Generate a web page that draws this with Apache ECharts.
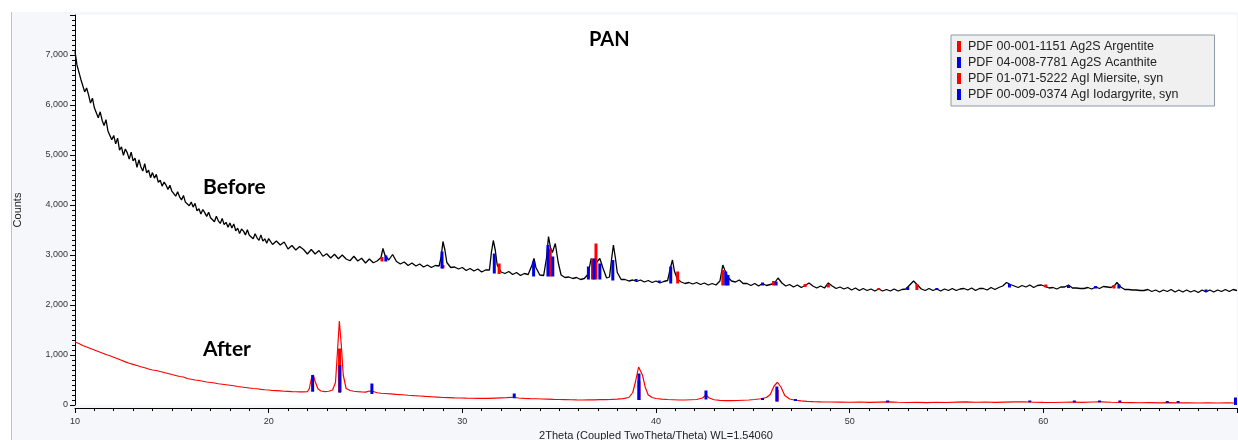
<!DOCTYPE html>
<html>
<head>
<meta charset="utf-8">
<title>PAN XRD</title>
<script src="https://cdn.jsdelivr.net/npm/echarts@6/dist/echarts.min.js"></script>
<style>
  html, body { margin: 0; padding: 0; background: #fff; }
  #chart { width: 1238px; height: 440px; }
</style>
</head>
<body>
<div id="chart"></div>
<script>
// scan data [2theta, counts]
var beforeScan = [
  [10.0,7072],[10.1,6802],[10.2,6828],[10.3,6516],[10.4,6504],[10.5,6262],[10.6,6340],[10.7,6202],[10.8,6038],[10.9,6136],
  [11.0,5944],[11.1,5958],[11.2,5744],[11.3,5864],[11.4,5696],[11.5,5588],[11.6,5708],[11.7,5482],[11.8,5496],[11.9,5306],
  [12.0,5392],[12.1,5222],[12.2,5338],[12.3,5096],[12.4,5164],[12.5,4992],[12.6,5120],[12.7,5042],[12.8,4918],[12.9,5056],
  [13.0,4884],[13.1,4938],[13.2,4754],[13.3,4904],[13.4,4766],[13.5,4678],[13.6,4828],[13.7,4642],[13.8,4696],[13.9,4546],
  [14.0,4648],[14.1,4538],[14.2,4612],[14.3,4454],[14.4,4496],[14.5,4378],[14.6,4460],[14.7,4398],[14.8,4312],[14.9,4394],
  [15.0,4276],[15.1,4302],[15.2,4176],[15.3,4266],[15.4,4164],[15.5,4102],[15.6,4192],[15.7,4058],[15.8,4094],[15.9,3984],
  [16.0,4058],[16.1,3958],[16.2,4032],[16.3,3884],[16.4,3926],[16.5,3818],[16.6,3910],[16.7,3848],[16.8,3772],[16.9,3854],
  [17.0,3746],[17.1,3782],[17.2,3666],[17.3,3776],[17.4,3684],[17.5,3632],[17.6,3732],[17.7,3608],[17.8,3654],[17.9,3554],
  [18.0,3638],[18.1,3538],[18.2,3622],[18.3,3484],[18.4,3536],[18.5,3428],[18.6,3520],[18.7,3478],[18.8,3402],[18.9,3504],
  [19.0,3396],[19.1,3432],[19.2,3326],[19.3,3426],[19.4,3344],[19.5,3292],[19.6,3402],[19.7,3278],[19.8,3324],[19.9,3234],
  [20.0,3328],[20.2,3210],[20.4,3280],[20.6,3200],[20.8,3260],[21.0,3120],[21.2,3190],[21.4,3100],[21.6,3170],[21.8,3110],
  [22.0,3020],[22.2,3110],[22.4,3020],[22.6,3090],[22.8,2975],[23.0,3025],[23.2,2940],[23.4,3015],[23.6,2925],[23.8,3000],
  [24.0,2920],[24.2,2885],[24.4,2975],[24.6,2880],[24.8,2935],[25.0,2840],[25.2,2920],[25.4,2845],[25.6,2880],[25.8,2950],
  [25.9,3130],[26.0,3000],[26.2,2900],[26.4,3010],[26.6,2870],[26.8,2820],[27.0,2860],[27.2,2790],[27.4,2840],[27.6,2780],
  [27.8,2820],[28.0,2760],[28.2,2800],[28.4,2750],[28.6,2790],[28.8,2780],[28.9,2950],[29.0,3270],[29.1,3100],[29.2,2850],
  [29.4,2750],[29.6,2760],[29.8,2720],[30.0,2750],[30.2,2690],[30.4,2730],[30.6,2680],[30.8,2720],[31.0,2660],[31.2,2700],
  [31.4,2700],[31.5,3050],[31.6,3290],[31.7,3100],[31.8,2800],[32.0,2660],[32.2,2630],[32.4,2670],[32.6,2610],[32.8,2650],
  [33.0,2590],[33.2,2630],[33.4,2610],[33.6,2800],[33.7,2930],[33.8,2750],[34.0,2600],[34.2,2590],[34.35,2950],[34.45,3370],
  [34.55,3150],[34.65,3050],[34.8,3230],[34.95,2850],[35.1,2600],[35.3,2550],[35.5,2560],[35.7,2530],[35.9,2550],[36.1,2510],
  [36.3,2530],[36.5,2620],[36.65,2930],[36.8,2780],[36.95,2860],[37.1,2930],[37.25,2750],[37.45,2540],[37.6,2560],[37.7,2900],
  [37.8,3200],[37.9,2950],[38.0,2650],[38.2,2510],[38.4,2510],[38.6,2480],[38.8,2500],[39.0,2470],[39.2,2500],[39.4,2460],
  [39.6,2490],[39.8,2450],[40.0,2480],[40.2,2440],[40.4,2470],[40.6,2490],[40.75,2750],[40.85,2900],[40.95,2680],[41.1,2520],
  [41.3,2460],[41.5,2430],[41.7,2450],[41.9,2420],[42.1,2450],[42.3,2410],[42.5,2440],[42.7,2400],[42.9,2430],[43.1,2400],
  [43.3,2480],[43.45,2800],[43.55,2700],[43.7,2560],[43.9,2480],[44.1,2460],[44.3,2500],[44.5,2430],[44.7,2430],[44.9,2390],
  [45.1,2430],[45.3,2380],[45.5,2430],[45.7,2390],[45.9,2410],[46.1,2430],[46.3,2540],[46.5,2440],[46.7,2380],[46.9,2410],
  [47.1,2360],[47.3,2400],[47.5,2350],[47.7,2390],[47.9,2440],[48.1,2380],[48.3,2340],[48.5,2380],[48.7,2340],[48.9,2440],
  [49.1,2380],[49.3,2330],[49.5,2360],[49.7,2320],[49.9,2350],[50.1,2300],[50.3,2340],[50.5,2290],[50.7,2330],[50.9,2290],
  [51.1,2320],[51.3,2280],[51.5,2320],[51.7,2280],[51.9,2310],[52.1,2280],[52.3,2320],[52.5,2280],[52.7,2310],[52.9,2320],
  [53.1,2400],[53.3,2480],[53.5,2400],[53.7,2320],[53.9,2290],[54.1,2330],[54.3,2290],[54.5,2320],[54.7,2280],[54.9,2320],
  [55.1,2290],[55.3,2330],[55.5,2290],[55.7,2320],[55.9,2330],[56.1,2300],[56.3,2340],[56.5,2290],[56.7,2330],[56.9,2330],
  [57.1,2300],[57.3,2350],[57.5,2310],[57.7,2350],[57.9,2380],[58.1,2450],[58.3,2410],[58.5,2380],[58.7,2350],[58.9,2390],
  [59.1,2360],[59.3,2400],[59.5,2350],[59.7,2390],[59.9,2400],[60.1,2370],[60.3,2340],[60.5,2350],[60.7,2320],[60.9,2360],
  [61.1,2360],[61.3,2400],[61.5,2340],[61.7,2340],[61.9,2330],[62.1,2330],[62.3,2350],[62.5,2320],[62.7,2360],[62.9,2330],
  [63.1,2370],[63.3,2360],[63.5,2350],[63.7,2400],[63.8,2450],[64.0,2360],[64.2,2310],[64.4,2310],[64.6,2300],[64.8,2300],
  [65.0,2290],[65.2,2290],[65.4,2310],[65.6,2270],[65.8,2300],[66.0,2260],[66.2,2300],[66.4,2270],[66.6,2310],[66.8,2260],
  [67.0,2300],[67.2,2260],[67.4,2300],[67.6,2260],[67.8,2290],[68.0,2250],[68.2,2300],[68.4,2260],[68.6,2300],[68.8,2260],
  [69.0,2300],[69.2,2270],[69.4,2310],[69.6,2270],[69.8,2310],[70.0,2290]
];

var afterScan = [
  [10.0,1260],[10.2,1230],[10.4,1190],[10.6,1160],[10.8,1130],[11.0,1100],[11.2,1070],[11.4,1040],[11.6,1010],[11.8,985],
  [12.0,955],[12.2,925],[12.4,895],[12.6,862],[12.8,835],[13.0,812],[13.2,790],[13.4,765],[13.6,745],[13.8,720],
  [14.0,700],[14.2,690],[14.4,670],[14.6,650],[14.8,630],[15.0,610],[15.2,590],[15.4,570],[15.6,560],[15.8,530],
  [16.0,515],[16.2,500],[16.4,490],[16.6,475],[16.8,460],[17.0,450],[17.2,440],[17.4,425],[17.6,415],[17.8,405],
  [18.0,395],[18.2,385],[18.4,370],[18.6,360],[18.8,350],[19.0,340],[19.2,330],[19.4,325],[19.6,313],[19.8,305],
  [20.0,300],[20.2,290],[20.4,287],[20.6,282],[20.8,275],[21.0,272],[21.2,268],[21.4,265],[21.6,262],[21.8,262],
  [22.0,265],[22.1,330],[22.2,520],[22.3,600],[22.4,470],[22.55,320],[22.7,280],[22.9,268],[23.1,275],[23.3,300],
  [23.45,450],[23.55,1050],[23.65,1680],[23.75,1200],[23.85,600],[24.0,330],[24.2,290],[24.4,275],[24.6,268],[24.8,262],
  [25.0,258],[25.2,280],[25.3,320],[25.4,270],[25.6,245],[25.8,235],[26.0,230],[26.3,222],[26.6,212],[26.9,205],
  [27.2,195],[27.5,187],[27.8,180],[28.1,172],[28.4,165],[28.7,158],[29.0,150],[29.3,147],[29.6,142],[29.9,140],
  [30.2,137],[30.5,135],[30.8,133],[31.1,132],[31.4,133],[31.7,138],[32.0,142],[32.3,146],[32.6,155],[32.9,140],
  [33.2,132],[33.5,128],[33.8,125],[34.1,120],[34.4,117],[34.7,113],[35.0,110],[35.3,108],[35.6,105],[35.9,102],
  [36.2,100],[36.5,102],[36.8,104],[37.1,106],[37.4,108],[37.7,112],[38.0,118],[38.3,128],[38.6,150],[38.8,250],
  [38.95,480],[39.1,760],[39.2,800],[39.3,600],[39.45,350],[39.6,200],[39.8,150],[40.0,130],[40.3,118],[40.6,110],
  [40.9,105],[41.2,100],[41.5,100],[41.8,105],[42.1,110],[42.4,140],[42.58,200],[42.75,140],[43.0,105],[43.3,92],
  [43.6,88],[43.9,87],[44.2,90],[44.5,95],[44.8,100],[45.1,110],[45.4,125],[45.7,150],[45.9,210],[46.1,380],
  [46.27,455],[46.45,360],[46.65,190],[46.9,120],[47.2,95],[47.5,82],[47.8,72],[48.1,67],[48.5,62],[49.0,60],
  [49.5,58],[50.0,55],[50.5,60],[51.0,52],[51.5,57],[52.0,62],[52.5,55],[53.0,50],[53.5,54],[54.0,48],
  [54.5,55],[55.0,50],[55.5,57],[56.0,62],[56.5,55],[57.0,60],[57.5,52],[58.0,58],[58.5,62],[59.0,65],
  [59.5,55],[60.0,52],[60.5,50],[61.0,55],[61.5,58],[62.0,52],[62.5,60],[63.0,62],[63.5,55],[64.0,50],
  [64.5,48],[65.0,45],[65.5,48],[66.0,44],[66.5,46],[67.0,42],[67.5,45],[68.0,40],[68.5,43],[69.0,40],
  [69.5,42],[70.0,40]
];

// reference patterns [2theta, base, top]
var argentiteSticks = [
  [25.85,2870,2960],[29.0,2730,2800],[31.9,2620,2830],[34.54,2570,3130],[36.72,2510,2930],[36.9,2510,3230],
  [41.12,2430,2670],[43.45,2390,2700],[46.07,2390,2480],[47.7,2360,2420],[48.9,2350,2420],[51.5,2300,2340],
  [53.47,2300,2420],[60.13,2350,2410],[63.65,2330,2400]
];
var acanthiteSticks = [
  [26.05,2870,2990],[28.95,2730,3070],[31.65,2630,3030],[33.68,2570,2870],[34.42,2570,3200],[34.67,2570,2970],
  [36.51,2510,2770],[36.8,2510,2930],[37.1,2510,2830],[37.77,2490,2900],[38.97,2480,2520],[40.17,2450,2490],
  [40.76,2430,2770],[43.6,2390,2670],[43.72,2390,2600],[45.5,2390,2450],[46.2,2390,2470],[53.0,2300,2360],
  [54.5,2300,2340],[58.25,2350,2420],[61.3,2340,2390],[62.7,2330,2380],[63.9,2330,2410],[68.4,2270,2310]
];
var miersiteSticks = [
  [23.66,250,1130],[39.12,100,480],[46.26,70,300]
];
var iodargyriteSticks = [
  [22.27,265,600],[23.68,250,800],[25.33,220,430],[32.68,135,230],[39.12,100,630],[42.58,110,290],
  [45.5,100,140],[46.24,70,370],[47.2,80,120],[51.96,55,90],[59.3,55,90],[61.6,55,90],[62.9,55,90],
  [63.95,55,90],[66.4,45,80],[66.96,45,80],[69.92,0,150]
];

var patternNames = [
  'PDF 00-001-1151 Ag2S Argentite',
  'PDF 04-008-7781 Ag2S Acanthite',
  'PDF 01-071-5222 AgI Miersite, syn',
  'PDF 00-009-0374 AgI Iodargyrite, syn'
];
var RED = '#ff0000';
var BLUE = '#0000e6';

var myChart = echarts.init(document.getElementById('chart'));

// stick drawn from base to top at one angle
function renderStick(params, api) {
  var p0 = api.coord([api.value(0), api.value(1)]);
  var p1 = api.coord([api.value(0), api.value(2)]);
  return {
    type: 'rect',
    shape: { x: p0[0] - 1.5, y: p1[1], width: 3, height: p0[1] - p1[1] },
    style: { fill: api.visual('color') }
  };
}

function stickSeries(name, data, color) {
  return {
    type: 'custom',
    name: name,
    data: data,
    renderItem: renderStick,
    encode: { x: 0, y: [1, 2] },
    itemStyle: { color: color },
    clip: true,
    silent: true,
    z: 3
  };
}

var option = {
  animation: false,
  backgroundColor: '#f5f7fa',
  textStyle: { fontFamily: 'Liberation Sans' },
  graphic: [
    { type: 'rect', shape: { x: 0, y: 0, width: 1238, height: 12 }, style: { fill: '#fff' } },
    { type: 'rect', shape: { x: 0, y: 0, width: 11, height: 440 }, style: { fill: '#fff' } },
    { type: 'line', shape: { x1: 11.5, y1: 12, x2: 11.5, y2: 440 }, style: { stroke: '#b9c5d6', lineWidth: 1 } },
    { type: 'text', left: 589, top: 30, style: { text: 'PAN', font: 'bold 20px Lato', fill: '#000' } },
    { type: 'text', left: 203, top: 177, style: { text: 'Before', font: 'bold 21px Lato', fill: '#000' } },
    { type: 'text', left: 203, top: 339, style: { text: 'After', font: 'bold 21px Lato', fill: '#000' } }
  ],
  grid: {
    left: 75, right: 1, top: 15, bottom: 35,
    outerBoundsMode: 'none',
    show: true, backgroundColor: '#fff', borderWidth: 0
  },
  legend: {
    orient: 'vertical',
    left: 951, top: 35,
    data: patternNames,
    icon: 'rect',
    itemWidth: 4, itemHeight: 11,
    itemGap: 1,
    padding: [4, 36, 4, 6],
    backgroundColor: '#f0f0f0',
    borderColor: '#8d9aa8', borderWidth: 1,
    selectedMode: false,
    textStyle: { fontFamily: 'Liberation Sans', fontSize: 12.5, color: '#222', lineHeight: 15, padding: [0, 0, 0, 2] }
  },
  xAxis: {
    type: 'value',
    min: 10, max: 70, interval: 10,
    offset: 3,
    name: '2Theta (Coupled TwoTheta/Theta) WL=1.54060',
    nameLocation: 'middle', nameGap: 21,
    nameTextStyle: { fontSize: 11, color: '#222', fontFamily: 'Liberation Sans' },
    axisLine: { show: true, onZero: false, lineStyle: { color: '#000', width: 1 } },
    axisTick: { show: true, inside: false, length: 5, lineStyle: { color: '#000' } },
    minorTick: { show: true, splitNumber: 10, length: 3, lineStyle: { color: '#000' } },
    axisLabel: { fontSize: 9, color: '#333', margin: 9, showMaxLabel: false },
    splitLine: { show: false }
  },
  yAxis: {
    type: 'value',
    min: 0, max: 7800, interval: 1000,
    name: 'Counts',
    nameLocation: 'middle', nameGap: 52, nameRotate: 90,
    nameTextStyle: { fontSize: 11, color: '#222', fontFamily: 'Liberation Sans' },
    axisLine: { show: true, lineStyle: { color: '#000', width: 1 } },
    axisTick: { show: true, inside: false, length: 5, lineStyle: { color: '#000' } },
    minorTick: { show: true, splitNumber: 10, length: 3, lineStyle: { color: '#000' } },
    axisLabel: {
      fontSize: 9, color: '#333', margin: 7,
      formatter: function (v) {
        if (v % 1000 !== 0) return '';
        return v.toString().replace(/\B(?=(\d{3})+(?!\d))/g, ',');
      }
    },
    splitLine: { show: false }
  },
  series: [
    {
      type: 'line', name: 'Before', data: beforeScan,
      showSymbol: false, symbol: 'none',
      lineStyle: { color: '#000', width: 1.3 }, z: 2
    },
    {
      type: 'line', name: 'After', data: afterScan,
      showSymbol: false, symbol: 'none',
      lineStyle: { color: RED, width: 1.2 }, z: 2
    },
    stickSeries(patternNames[0], argentiteSticks, RED),
    stickSeries(patternNames[1], acanthiteSticks, BLUE),
    stickSeries(patternNames[2], miersiteSticks, RED),
    stickSeries(patternNames[3], iodargyriteSticks, BLUE)
  ]
};

myChart.setOption(option);
</script>
</body>
</html>
